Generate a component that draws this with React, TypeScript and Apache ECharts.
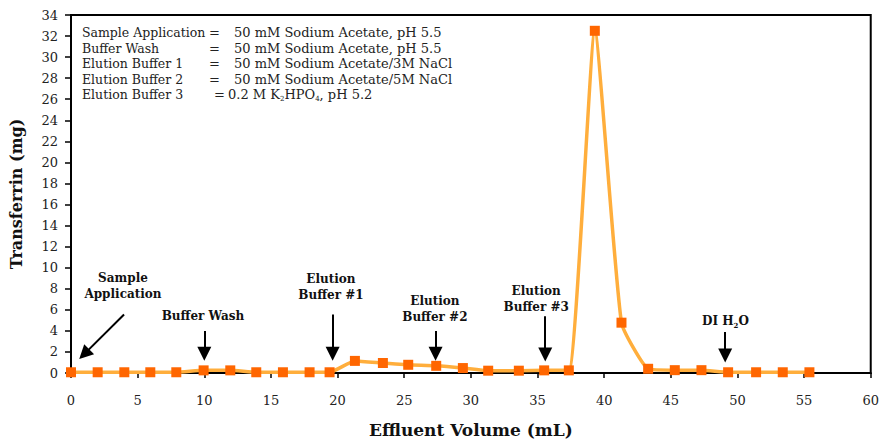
import React, { useEffect, useRef } from "react";
import * as echarts from "echarts";

const volumes = [0, 2, 4, 5.95, 7.9, 9.95, 11.95, 13.9, 15.9, 17.9, 19.4, 21.3, 23.4, 25.3, 27.4, 29.4, 31.3, 33.6, 35.5, 37.35, 39.3, 41.3, 43.3, 45.3, 47.3, 49.3, 51.4, 53.4, 55.4];
const transferrin = [0.07, 0.07, 0.07, 0.07, 0.07, 0.25, 0.25, 0.07, 0.07, 0.07, 0.07, 1.15, 0.95, 0.78, 0.68, 0.47, 0.22, 0.22, 0.25, 0.25, 32.5, 4.78, 0.4, 0.27, 0.27, 0.07, 0.07, 0.07, 0.07];

const legendNames = ["Sample Application", "Buffer Wash", "Elution Buffer 1", "Elution Buffer 2", "Elution Buffer 3"];
const legendValues = [
  "{n|50 mM Sodium Acetate, pH 5.5}",
  "{n|50 mM Sodium Acetate, pH 5.5}",
  "{n|50 mM Sodium Acetate/3M NaCl}",
  "{n|50 mM Sodium Acetate/5M NaCl}",
  "{n|0.2 M K}{s|2}{n|HPO}{s|4}{n|, pH 5.2}",
];

// annotation labels: [x, y, text]
const stepLabels: [number, number, string][] = [
  [3.9, 8.25, "Sample\nApplication"],
  [9.9, 5.4, "Buffer Wash"],
  [19.5, 8.2, "Elution\nBuffer #1"],
  [27.3, 6.1, "Elution\nBuffer #2"],
  [34.9, 7.05, "Elution\nBuffer #3"],
  [49.1, 4.9, "{b|DI H}{bs|2}{b|O}"],
];

// arrows: [x1, y1, x2, y2] in data units (tail -> arrow-head centre)
const arrows: [number, number, number, number][] = [
  [3.98, 5.56, 0.99, 1.79],
  [10.0, 3.98, 10.0, 1.83],
  [19.63, 5.56, 19.63, 1.83],
  [27.35, 3.98, 27.35, 1.83],
  [35.58, 5.4, 35.58, 1.76],
  [49.08, 3.9, 49.08, 1.67],
];

const FONT = "'DejaVu Serif', serif";

export default function App() {
  const ref = useRef<HTMLDivElement>(null);
  useEffect(() => {
    if (!ref.current) return;
    document.body.style.margin = "0";
    const chart = echarts.init(ref.current, null, { renderer: "svg" });
    const data = volumes.map((v, i) => [v, transferrin[i]]);

    const graphic: any[] = [];
    const rowY = [34, 49.5, 65, 80.5, 96];
    legendNames.forEach((name, i) => {
      graphic.push({
        type: "text",
        left: 82,
        top: rowY[i] - 8,
        style: { text: name, font: `12.5px ${FONT}`, fill: "#222" },
      });
      graphic.push({
        type: "text",
        left: i === 4 ? 214 : 209,
        top: rowY[i] - 8,
        style: { text: "=", font: `13px ${FONT}`, fill: "#222" },
      });
      graphic.push({
        type: "text",
        left: i === 4 ? 228 : 234,
        top: rowY[i] - 8,
        style: {
          text: legendValues[i],
          fill: "#222",
          rich: {
            n: { fontFamily: FONT, fontSize: 13, lineHeight: 16, fill: "#222" },
            s: { fontFamily: FONT, fontSize: 7, lineHeight: 16, verticalAlign: "bottom", fill: "#222" },
          },
        },
      });
    });

    chart.setOption({
      animation: false,
      backgroundColor: "#fff",
      grid: {
        left: 70,
        right: 9,
        top: 15,
        bottom: 66.3,
        show: true,
        borderColor: "#000",
        borderWidth: 2,
      },
      xAxis: {
        type: "value",
        min: 0,
        max: 60,
        interval: 5,
        name: "Effluent Volume (mL)",
        nameLocation: "middle",
        nameGap: 48,
        nameTextStyle: { fontFamily: FONT, fontWeight: "bold", fontSize: 17, color: "#111" },
        axisLine: { lineStyle: { color: "#000", width: 2 } },
        axisTick: { show: true, length: 5, lineStyle: { color: "#000", width: 1.5 } },
        axisLabel: { fontFamily: FONT, fontSize: 13, color: "#222", margin: 21 },
        splitLine: { show: false },
      },
      yAxis: {
        type: "value",
        min: 0,
        max: 34,
        interval: 2,
        name: "Transferrin (mg)",
        nameLocation: "middle",
        nameGap: 47,
        nameRotate: 90,
        nameTextStyle: { fontFamily: FONT, fontWeight: "bold", fontSize: 16, color: "#111" },
        axisLine: { show: true, lineStyle: { color: "#000", width: 2 } },
        axisTick: { show: true, length: 6, lineStyle: { color: "#000", width: 1.5 } },
        axisLabel: { fontFamily: FONT, fontSize: 13, color: "#222", margin: 13 },
        splitLine: { show: false },
      },
      graphic,
      series: [
        {
          type: "line",
          data,
          smooth: 0.15,
          symbol: "rect",
          symbolSize: 10,
          itemStyle: { color: "#FF6600" },
          lineStyle: { color: "#FFAE3C", width: 3.5 },
          z: 3,
          markLine: {
            silent: true,
            symbol: ["none", "triangle"],
            symbolSize: 14,
            label: { show: false },
            emphasis: { disabled: true },
            lineStyle: { color: "#000", width: 2, type: "solid" },
            itemStyle: { color: "#000" },
            data: arrows.map(([x1, y1, x2, y2]) => [
              { coord: [x1, y1] },
              { coord: [x2, y2] },
            ]),
          },
          markPoint: {
            silent: true,
            symbol: "rect",
            symbolSize: 0,
            data: stepLabels.map(([x, y, t]) => ({
              coord: [x, y],
              value: t,
              label: {
                show: true,
                position: "inside",
                formatter: t,
                fontFamily: FONT,
                fontWeight: "bold",
                fontSize: 12,
                lineHeight: 16,
                color: "#111",
                align: "center",
                verticalAlign: "middle",
                rich: {
                  b: { fontFamily: FONT, fontWeight: "bold", fontSize: 12, lineHeight: 16, color: "#111" },
                  bs: { fontFamily: FONT, fontWeight: "bold", fontSize: 7, lineHeight: 16, verticalAlign: "bottom", color: "#111" },
                },
              },
            })),
          },
        },
      ],
    });
    return () => chart.dispose();
  }, []);
  return <div ref={ref} style={{ width: 882, height: 443 }} />;
}
